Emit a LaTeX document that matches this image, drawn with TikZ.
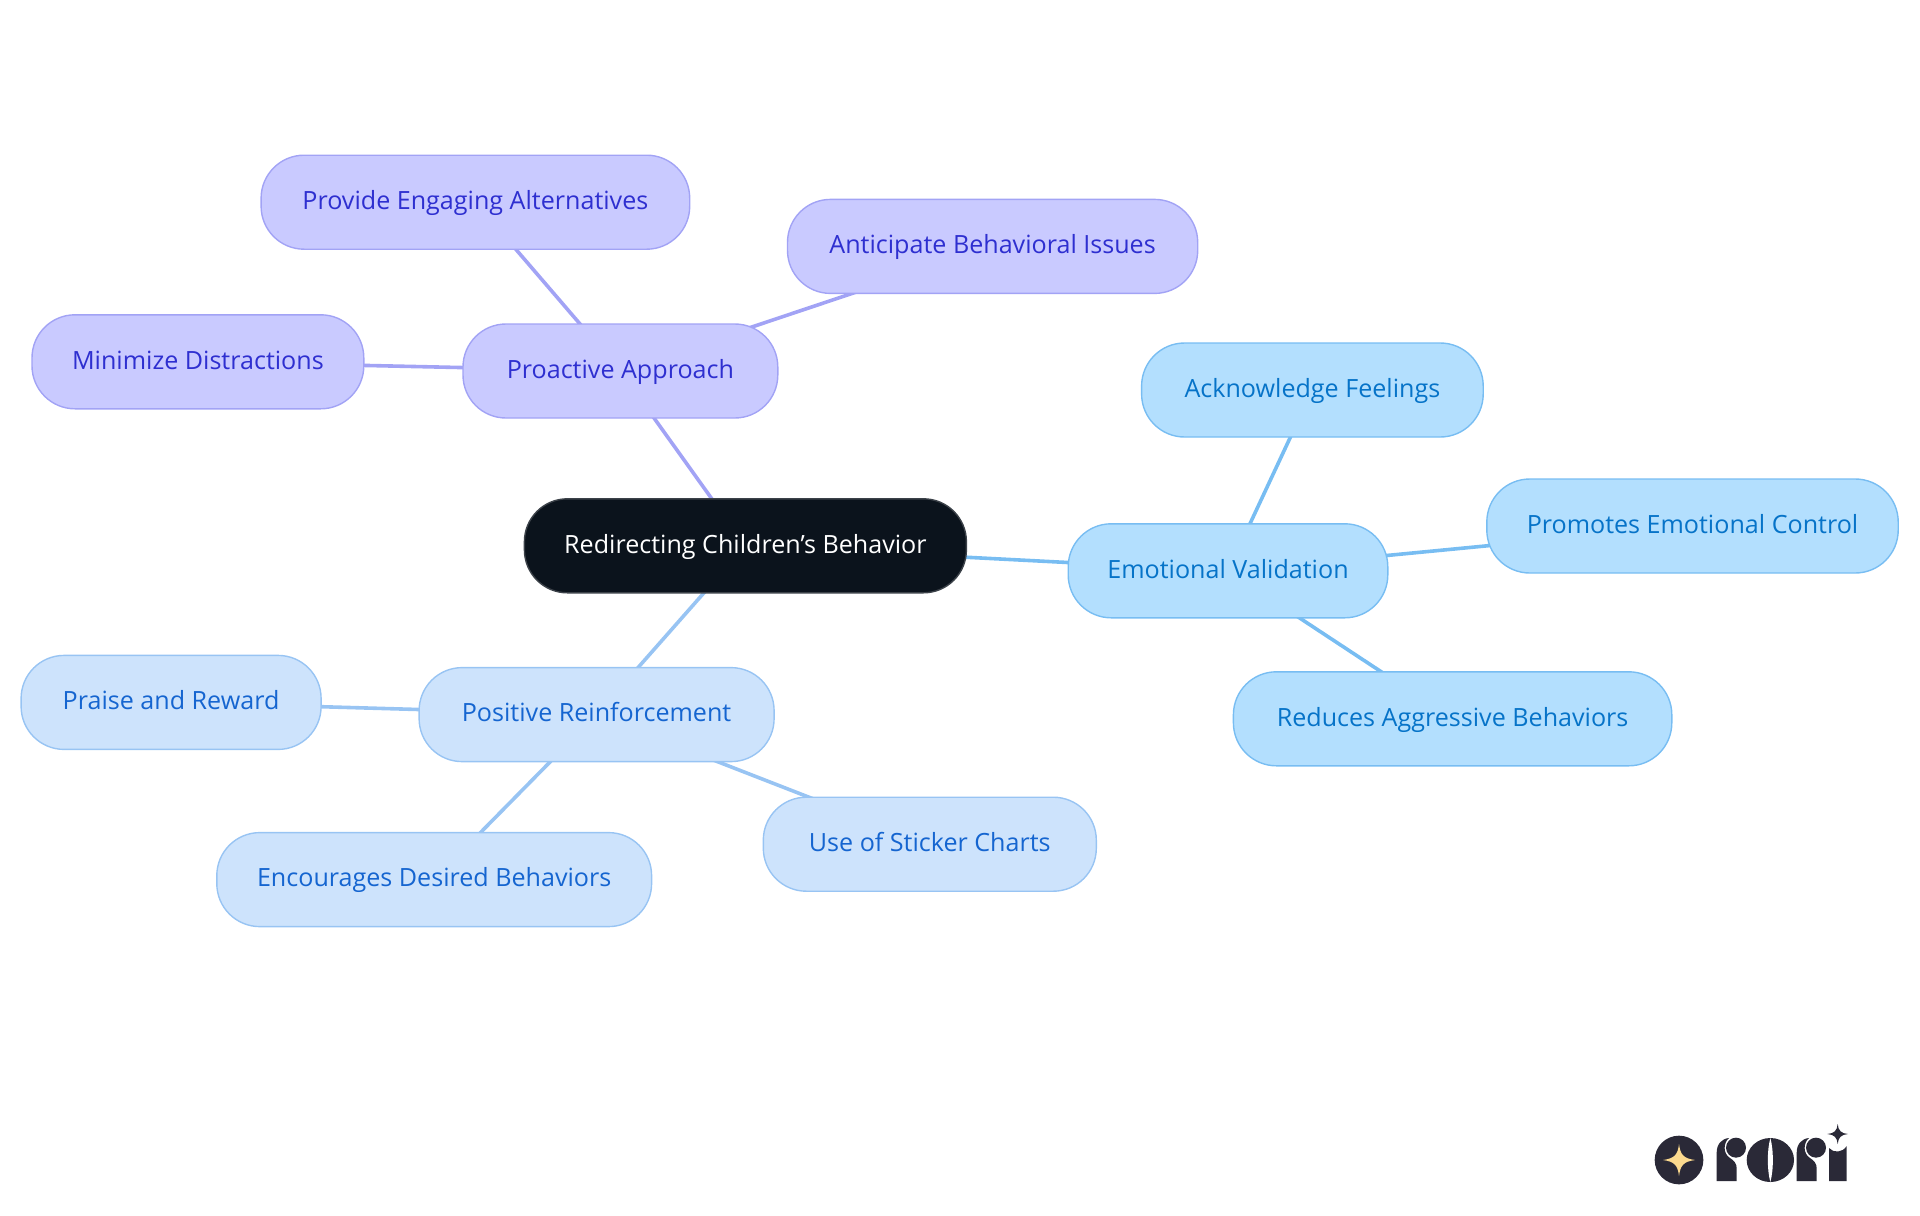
\documentclass[tikz,border=0pt]{standalone}
\usepackage{fontspec}
\setmainfont{Open Sans}
\usepackage{tikz}
\usetikzlibrary{positioning, backgrounds}
\definecolor{rootfill}{HTML}{0B131C}
\definecolor{rootline}{HTML}{3C4249}
\definecolor{purfill}{HTML}{C9CAFF}
\definecolor{purline}{HTML}{A2A3F5}
\definecolor{purtext}{HTML}{2E2FD0}
\definecolor{palefill}{HTML}{CDE3FC}
\definecolor{paleline}{HTML}{98C4F3}
\definecolor{paletext}{HTML}{1565D0}
\definecolor{skyfill}{HTML}{B3DFFE}
\definecolor{skyline}{HTML}{78BDF2}
\definecolor{skytext}{HTML}{0673C8}
\definecolor{logoink}{HTML}{2A2937}
\definecolor{logostar}{HTML}{FBD98E}
\tikzset{
  mapbox/.style={rectangle, draw, line width=0.7pt, minimum height=47pt, inner sep=0pt, outer sep=0pt, align=center, rounded corners=21.5pt, text height=10pt, text depth=2.8pt, font=\fontsize{12.55}{15}\selectfont},
  rootbox/.style={mapbox, fill=rootfill, draw=rootline, text=white},
  purbox/.style={mapbox, fill=purfill, draw=purline, text=purtext},
  palebox/.style={mapbox, fill=palefill, draw=paleline, text=paletext},
  skybox/.style={mapbox, fill=skyfill, draw=skyline, text=skytext},
  purlink/.style={draw=purline, line width=1.8pt},
  palelink/.style={draw=paleline, line width=1.8pt},
  skylink/.style={draw=skyline, line width=1.8pt},
  logofill/.style={fill=logoink, draw=none},
}
\begin{document}
\begin{tikzpicture}
  \useasboundingbox (0,0) rectangle (960pt,-607.5pt);

  % Root
  \node[rootbox, minimum width=221pt] (root) at (372.7pt,-272.9pt) {Redirecting Children's Behavior};

  % Proactive branch
  \node[purbox, minimum width=157.4pt, above=40.4pt of root, xshift=-62.5pt] (proactive) {Proactive Approach};
  \node[purbox, minimum width=214.3pt, above=37.4pt of proactive, xshift=-72.5pt] (provide) {Provide Engaging Alternatives};
  \node[purbox, minimum width=205.1pt, above=15.3pt of proactive, xshift=186.1pt] (anticipate) {Anticipate Behavioral Issues};
  \node[purbox, minimum width=165.9pt, left=49.6pt of proactive, yshift=4.6pt] (minimize) {Minimize Distractions};

  % Emotional branch
  \node[skybox, minimum width=159.8pt, right=50.9pt of root, yshift=-12.5pt] (emotional) {Emotional Validation};
  \node[skybox, minimum width=170.8pt, above=43.4pt of emotional, xshift=42.2pt] (acknowledge) {Acknowledge Feelings};
  \node[skybox, minimum width=205.7pt, right=49.5pt of emotional, yshift=22.4pt] (promotes) {Promotes Emotional Control};
  \node[skybox, minimum width=219.2pt, below=27pt of emotional, xshift=112.3pt] (reduces) {Reduces Aggressive Behaviors};

  % Positive branch
  \node[palebox, minimum width=177.5pt, below=37.4pt of root, xshift=-74.4pt] (positive) {Positive Reinforcement};
  \node[palebox, minimum width=150pt, left=49pt of positive, yshift=6.1pt] (praise) {Praise and Reward};
  \node[palebox, minimum width=217.4pt, below=35.5pt of positive, xshift=-81.2pt] (encourages) {Encourages Desired Behaviors};
  \node[palebox, minimum width=166.5pt, below=17.8pt of positive, xshift=166.6pt] (sticker) {Use of Sticker Charts};

  % Connectors
  \begin{scope}[on background layer]
    \draw[purlink] (root.center) -- (proactive.center);
    \draw[purlink] (proactive.center) -- (provide.center);
    \draw[purlink] (proactive.center) -- (anticipate.center);
    \draw[purlink] (proactive.center) -- (minimize.center);
    \draw[skylink] (root.center) -- (emotional.center);
    \draw[skylink] (emotional.center) -- (acknowledge.center);
    \draw[skylink] (emotional.center) -- (promotes.center);
    \draw[skylink] (emotional.center) -- (reduces.center);
    \draw[palelink] (root.center) -- (positive.center);
    \draw[palelink] (positive.center) -- (praise.center);
    \draw[palelink] (positive.center) -- (encourages.center);
    \draw[palelink] (positive.center) -- (sticker.center);
  \end{scope}

  % Logo
  \begin{scope}[shift={(810pt,-550pt)}, x=0.16667pt, y=-0.16667pt]
    \fill[logofill] (177,180) circle (73);
    \fill[logostar] (177,132) .. controls (181,164) and (190,175) .. (225,180) .. controls (190,185) and (181,196) .. (177,228) .. controls (173,196) and (164,185) .. (129,180) .. controls (164,175) and (173,164) .. (177,132) -- cycle;
    % r
    \foreach \dx in {0,240} {
      \begin{scope}[xshift=\dx*0.16667pt]
        \fill[logofill] (290,243) -- (290,158) .. controls (290,132) and (305,116) .. (327,114) .. controls (310,128) and (308,160) .. (330,174) .. controls (342,182) and (350,190) .. (350,205) -- (350,243) -- cycle;
        \fill[logofill] (348,143) circle (30);
      \end{scope}
    }
    % o
    \fill[logofill] (451,180) ellipse (71 and 66);
    \fill[white] (451,114) .. controls (441,150) and (441,210) .. (451,246) .. controls (461,210) and (461,150) .. (451,114) -- cycle;
    % i
    \fill[logofill] (627,243) -- (627,144) .. controls (640,160) and (668,158) .. (680,138) -- (680,243) -- cycle;
    \fill[logofill] (653,72) .. controls (655,92) and (663,100) .. (684,102) .. controls (663,104) and (655,112) .. (653,132) .. controls (651,112) and (643,104) .. (622,102) .. controls (643,100) and (651,92) .. (653,72) -- cycle;
  \end{scope}
\end{tikzpicture}
\end{document}
